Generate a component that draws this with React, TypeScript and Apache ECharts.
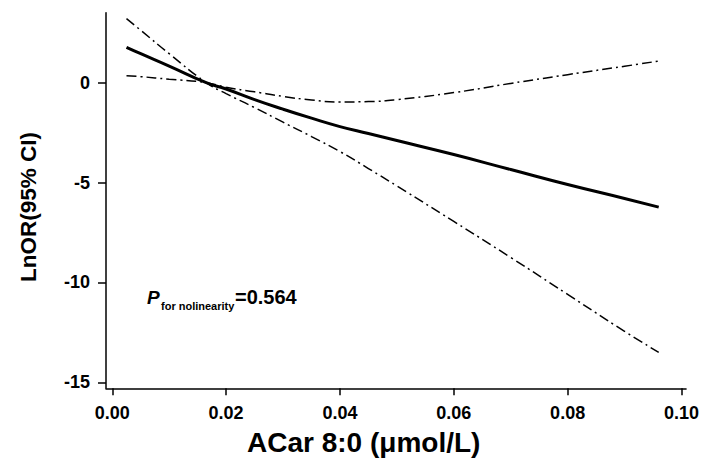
import React, { useEffect, useRef } from "react";
import * as echarts from "echarts";

const xValues = [0.0025, 0.005, 0.01, 0.0165, 0.02, 0.025, 0.03, 0.035, 0.04, 0.045, 0.05, 0.06, 0.07, 0.08, 0.09, 0.096];
const lnOR = [1.77, 1.45, 0.83, 0, -0.32, -0.85, -1.33, -1.78, -2.2, -2.55, -2.9, -3.6, -4.35, -5.1, -5.8, -6.23];
const upperCI = [0.35, 0.3, 0.17, 0, -0.23, -0.46, -0.69, -0.87, -0.97, -0.95, -0.85, -0.5, -0.04, 0.4, 0.82, 1.08];
const lowerCI = [3.2, 2.62, 1.45, 0, -0.55, -1.25, -1.98, -2.7, -3.45, -4.3, -5.17, -6.95, -8.75, -10.6, -12.45, -13.5];
const xTicks = [0, 0.02, 0.04, 0.06, 0.08, 0.1];
const yTicks = [-15, -10, -5, 0];

const FONT = "'Liberation Sans', Arial, sans-serif";

export default function App() {
  const ref = useRef<HTMLDivElement>(null);
  useEffect(() => {
    if (!ref.current) return;
    const chart = echarts.init(ref.current, null, { renderer: "svg" });
    const pair = (ys: number[]) => xValues.map((x, i) => [x, ys[i]]);
    const dashDot = [10, 4, 2, 4];
    chart.setOption({
      animation: false,
      backgroundColor: "#fff",
      grid: { left: 106, right: 15.3, top: 12.7, bottom: 77.7 },
      xAxis: {
        type: "value",
        min: -0.0011,
        max: 0.1008,
        axisLine: { show: true, onZero: false, lineStyle: { color: "#000", width: 1.5 } },
        axisTick: { show: true, length: 7, customValues: xTicks, lineStyle: { color: "#000", width: 1.5 } },
        axisLabel: {
          customValues: xTicks,
          margin: 16,
          formatter: (v: number) => v.toFixed(2),
          color: "#000",
          fontSize: 18,
          fontWeight: "bold",
          fontFamily: FONT,
        },
        splitLine: { show: false },
      },
      yAxis: {
        type: "value",
        min: -15.3,
        max: 3.5,
        axisLine: { show: true, onZero: false, lineStyle: { color: "#000", width: 1.5 } },
        axisTick: { show: true, length: 8, customValues: yTicks, lineStyle: { color: "#000", width: 1.5 } },
        axisLabel: {
          customValues: yTicks,
          margin: 16,
          formatter: (v: number) => String(Math.round(v)),
          color: "#000",
          fontSize: 18,
          fontWeight: "bold",
          fontFamily: FONT,
        },
        splitLine: { show: false },
      },
      series: [
        {
          type: "line",
          data: pair(upperCI),
          smooth: true,
          showSymbol: false,
          lineStyle: { color: "#000", width: 1.5, type: dashDot },
        },
        {
          type: "line",
          data: pair(lowerCI),
          smooth: true,
          showSymbol: false,
          lineStyle: { color: "#000", width: 1.5, type: dashDot },
        },
        {
          type: "line",
          data: pair(lnOR),
          smooth: true,
          showSymbol: false,
          lineStyle: { color: "#000", width: 3 },
        },
      ],
      graphic: [
        {
          type: "text",
          x: 247,
          y: 442,
          style: {
            text: "ACar 8:0 (μmol/L)",
            fill: "#000",
            font: `bold 28px ${FONT}`,
            textAlign: "left",
            textVerticalAlign: "middle",
          },
        },
        {
          type: "text",
          x: 28,
          y: 207,
          rotation: Math.PI / 2,
          style: {
            text: "LnOR(95% CI)",
            fill: "#000",
            font: `bold 22.5px ${FONT}`,
            textAlign: "center",
            textVerticalAlign: "middle",
          },
        },
        {
          type: "text",
          x: 147,
          y: 297,
          style: {
            text: "P",
            fill: "#000",
            font: `italic bold 19px ${FONT}`,
            textAlign: "left",
            textVerticalAlign: "middle",
          },
        },
        {
          type: "text",
          x: 161,
          y: 305.5,
          style: {
            text: "for nolinearity",
            fill: "#000",
            font: `bold 11px ${FONT}`,
            textAlign: "left",
            textVerticalAlign: "middle",
          },
        },
        {
          type: "text",
          x: 235,
          y: 297,
          style: {
            text: "=0.564",
            fill: "#000",
            font: `bold 20px ${FONT}`,
            textAlign: "left",
            textVerticalAlign: "middle",
          },
        },
      ],
    });
    return () => chart.dispose();
  }, []);
  return <div ref={ref} style={{ width: 702, height: 466, position: "fixed", left: 0, top: 0 }} />;
}
